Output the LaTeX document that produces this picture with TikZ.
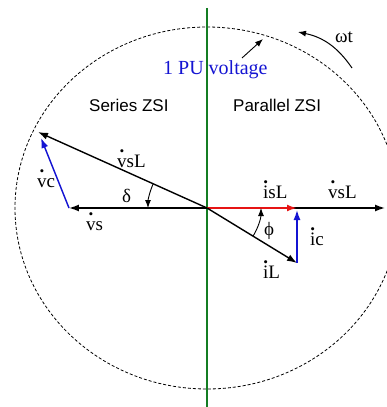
\documentclass[tikz,border=0pt]{standalone}
\usepackage{amsmath}
\usepackage{fontspec}
\setmainfont{Liberation Serif}
\newfontfamily\labelsans{Liberation Sans}
\usepackage{xcolor}
\usepackage{tikz}
\usetikzlibrary{arrows.meta,positioning,calc}
\definecolor{axisgreen}{RGB}{20,125,35}
\definecolor{phasorblue}{RGB}{20,20,210}
\definecolor{phasorred}{RGB}{230,20,20}
\newcommand{\dotlet}[2]{\ooalign{#1\cr\hidewidth\raisebox{0.78em}{\textbf{.}}\hidewidth\cr}#2}
\tikzset{
	phasor/.style={-{Latex[length=10pt,width=7pt]}, line width=1.4pt},
	anglearc/.style={-{Latex[length=8pt,width=6pt]}, line width=0.9pt},
	pointer/.style={-{Latex[length=8pt,width=6pt]}, line width=0.9pt},
	veclabel/.style={anchor=base west, inner sep=0pt, font=\fontsize{19}{21}\selectfont},
	zsilabel/.style={anchor=base west, inner sep=0pt, font=\labelsans\fontsize{17}{19}\selectfont}
}
\begin{document}
\begin{tikzpicture}[x=1pt, y=1pt]
	\useasboundingbox (-207,-199) rectangle (180,208);
	
	%% ── Reference points ────────────────────────────────────────────
	\coordinate (o) at (0,0);
	\coordinate (vsTip) at (-138,0);
	\coordinate (vsLTip) at (-169,76);
	\coordinate (vcTip) at (-166,70);
	\coordinate (isLTip) at (90,0);
	\coordinate (iLTip) at (90,-55);
	\coordinate (icTip) at (90,-2);
	\coordinate (axisEnd) at (178,0);
	
	%% ── 1 PU voltage circle and divider ─────────────────────────────
	\draw[dash pattern=on 3pt off 2pt, line width=0.8pt] (o) ellipse [x radius=192, y radius=181];
	\draw[axisgreen, line width=2.6pt] (0,200) coordinate (divTop) -- (0,-199) coordinate (divBot);
	
	%% ── Series ZSI phasors (left) ───────────────────────────────────
	\draw[phasor] (o) -- (vsTip);
	\draw[phasor] (o) -- (vsLTip);
	\draw[phasor, phasorblue] (vsTip) -- (vcTip);
	\draw[anglearc] (155.8:59) arc[start angle=155.8, end angle=180, radius=59];
	
	%% ── Parallel ZSI phasors (right) ────────────────────────────────
	\draw[phasor] (o) -- (axisEnd);
	\draw[phasor, phasorred, line width=2pt] (o) -- (isLTip);
	\draw[phasor] (o) -- (iLTip);
	\draw[phasor, phasorblue] (iLTip) -- (icTip);
	\draw[anglearc] (-31.4:54) arc[start angle=-31.4, end angle=0, radius=54];
	
	%% ── Labels ──────────────────────────────────────────────────────
	\node[zsilabel] (series) at (-118,96) {Series ZSI};
	\node[zsilabel] (parallel) at (26,96) {Parallel ZSI};
	\node[veclabel, text=phasorblue, font=\fontsize{20}{22}\selectfont] (pu) at (-44,133) {1 PU voltage};
	\node[veclabel] (wt) at (128,165) {ωt};
	
	\node[veclabel] (vsLlab) at (-90,41) {\dotlet{v}{sL}};
	\node[veclabel] (vclab) at (-170,21) {\dotlet{v}{c}};
	\node[veclabel] (deltalab) at (-85,6) {δ};
	\node[veclabel] (vslab) at (-121,-22) {\dotlet{v}{s}};
	\node[veclabel] (isLlab) at (56,10) {\dotlet{i}{sL}};
	\node[veclabel] (vsLrlab) at (121,10) {\dotlet{v}{sL}};
	\node[veclabel] (philab) at (57,-27) {ϕ};
	\node[veclabel] (iclab) at (103,-37) {\dotlet{i}{c}};
	\node[veclabel] (iLlab) at (56,-70) {\dotlet{i}{L}};
	
	%% ── Pointers ────────────────────────────────────────────────────
	\coordinate (puFrom) at (35,150);
	\coordinate (puTip) at (56,169);
	\draw[pointer] (puFrom) -- (puTip);
	\coordinate (wtFrom) at (145,140);
	\coordinate (wtTip) at (91,176);
	\draw[pointer, line width=1pt] (wtFrom) to[bend right=22] (wtTip);
	
\end{tikzpicture}
\end{document}
